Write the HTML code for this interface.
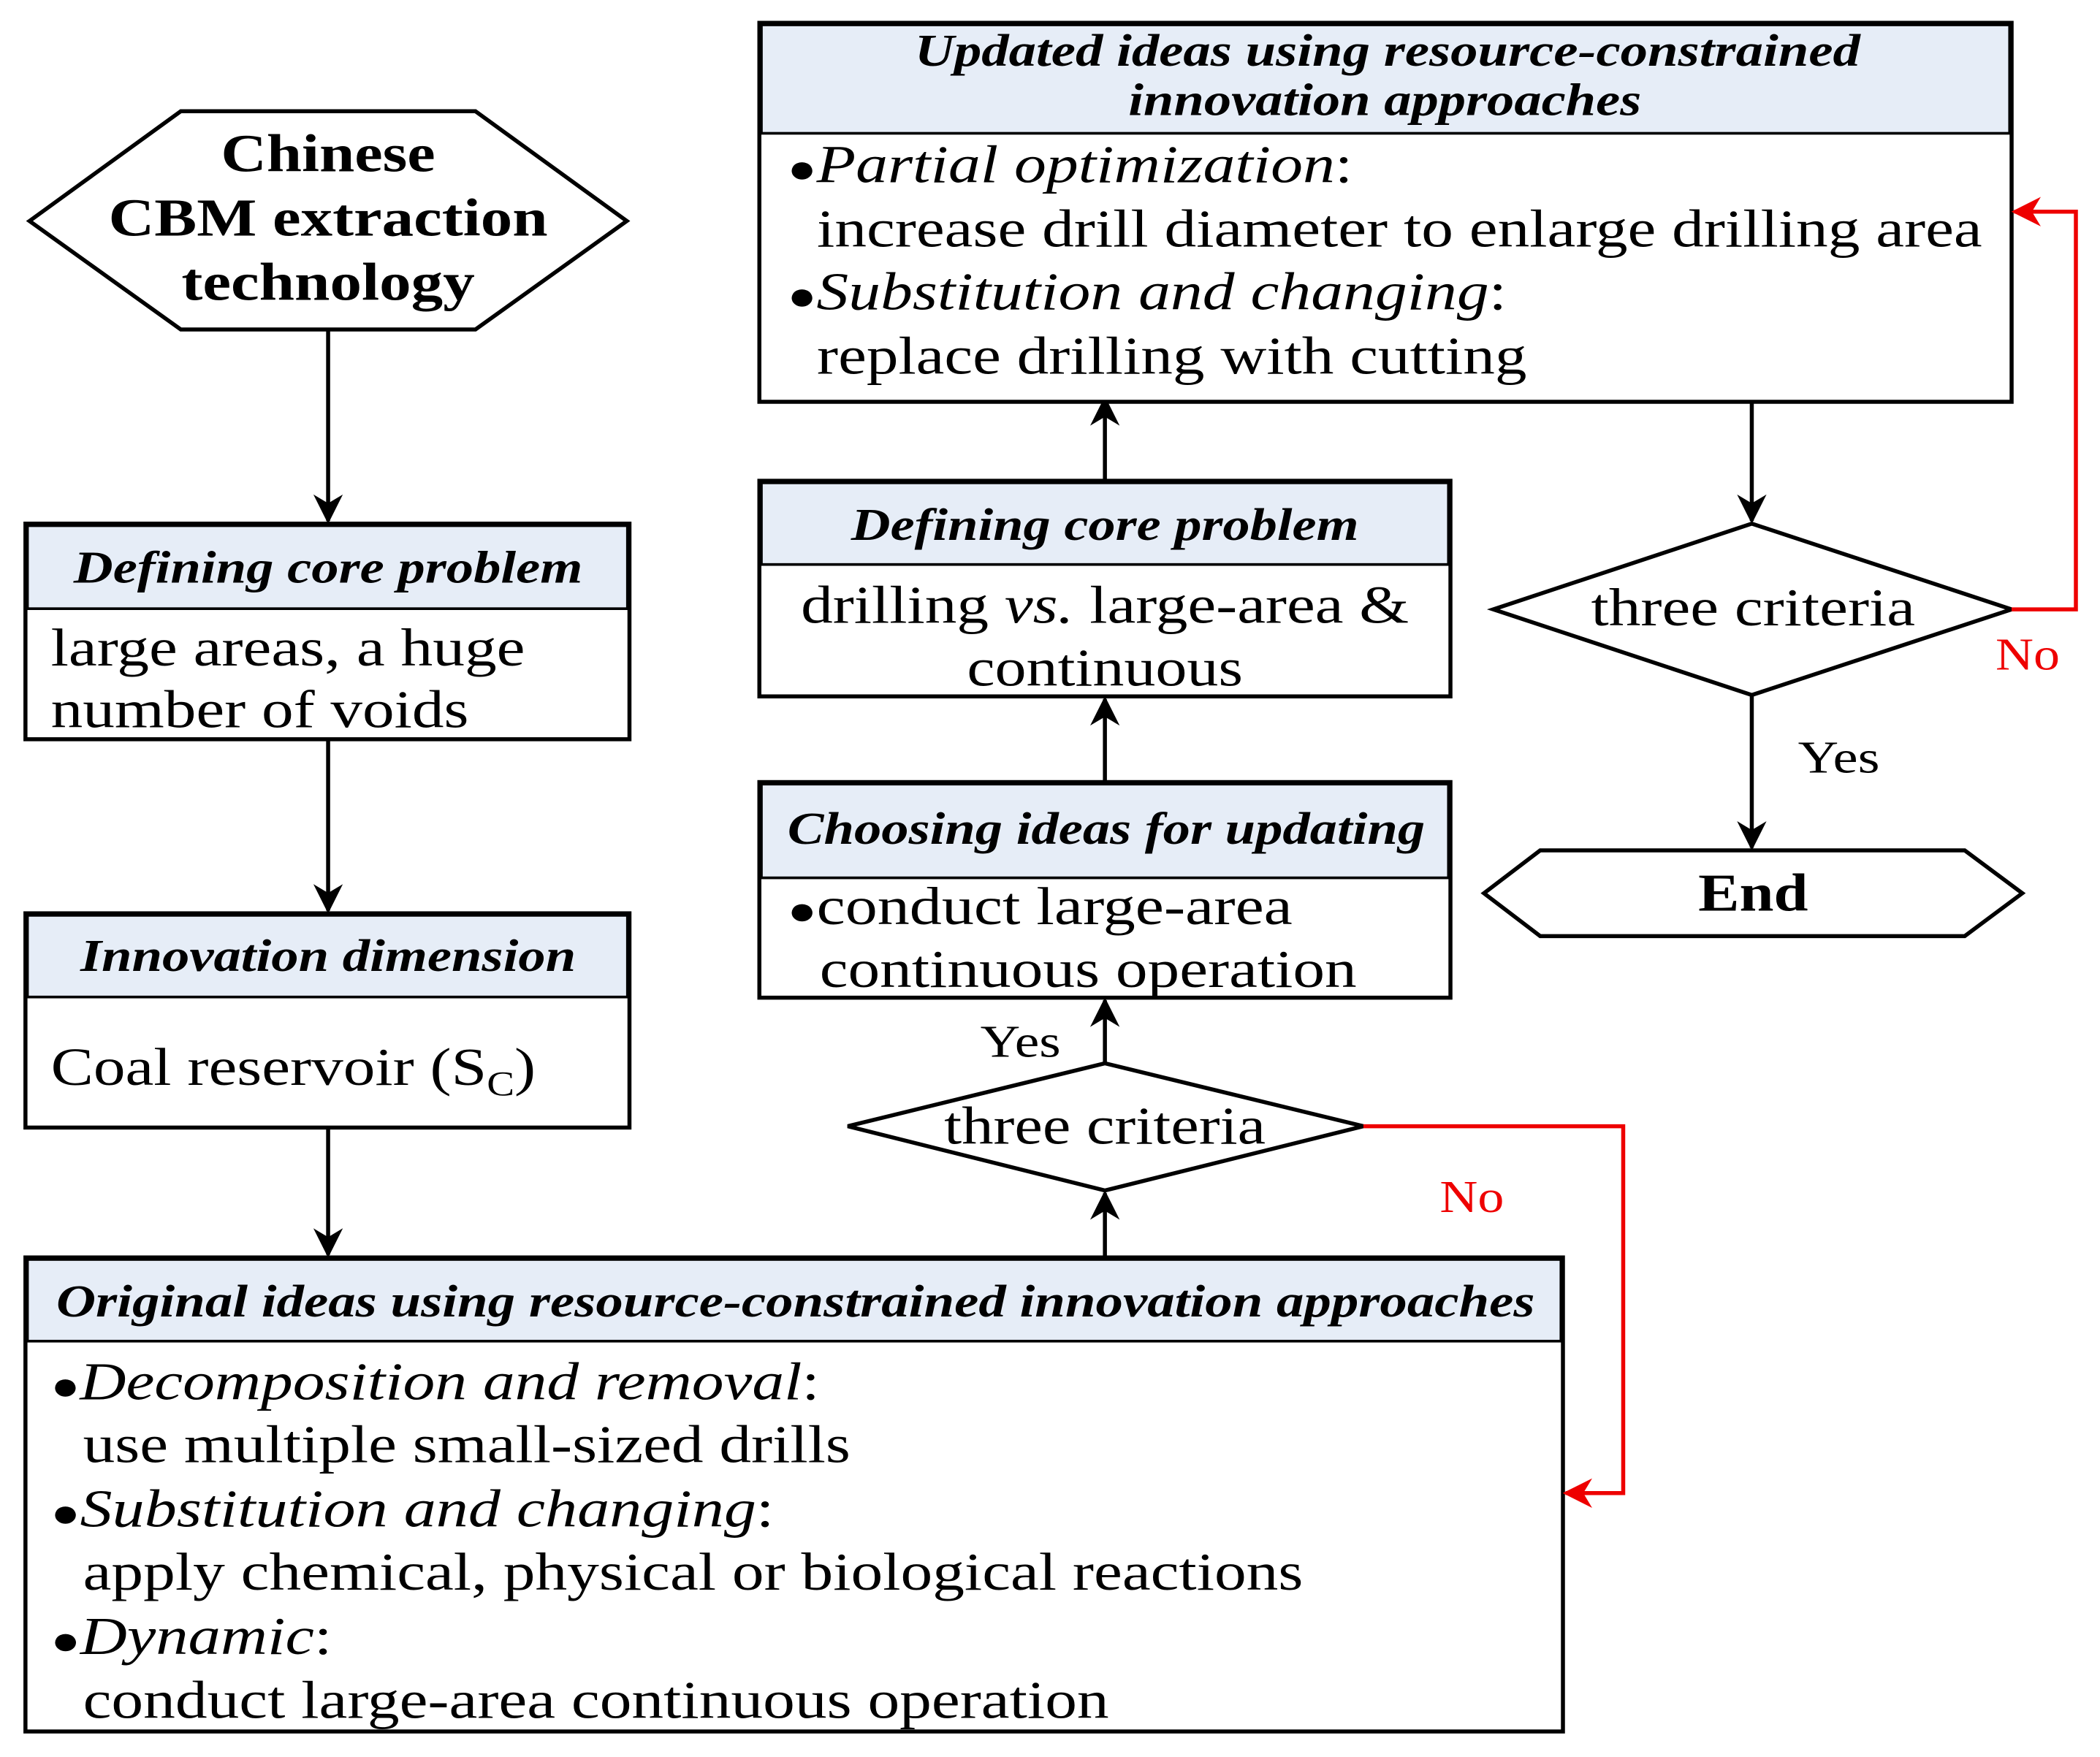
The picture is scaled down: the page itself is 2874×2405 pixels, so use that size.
<!DOCTYPE html>
<html><head><meta charset="utf-8"><style>html,body{margin:0;padding:0;background:#fff}svg{display:block}</style></head>
<body>
<svg width="2874" height="2405" viewBox="0 0 1568 1312" xmlns="http://www.w3.org/2000/svg" font-family="Liberation Serif, serif">
<defs>
<marker id="a" viewBox="0 0 10 10" refX="9" refY="5" markerWidth="24" markerHeight="22" markerUnits="userSpaceOnUse" orient="auto"><path d="M0,0 L10,5 L0,10 L3,5 z" fill="#000"/></marker>
<marker id="r" viewBox="0 0 10 10" refX="9" refY="5" markerWidth="24" markerHeight="22" markerUnits="userSpaceOnUse" orient="auto"><path d="M0,0 L10,5 L0,10 L3,5 z" fill="#e00"/></marker>
</defs>
<style>
.b{fill:#fff;stroke:#000;stroke-width:3}
.h{fill:#e6edf7;stroke:#000;stroke-width:2}
.t{font-size:40px}
.ht{font-size:34px;font-weight:bold;font-style:italic}
.ln{stroke:#000;stroke-width:3;fill:none}
.rl{stroke:#e00;stroke-width:3;fill:none}
.d{font-size:30px}
</style>
<polygon class="b" points="22,165 135,83 355,83 468,165 355,246 135,246"/>
<g font-size="40" font-weight="bold" text-anchor="middle" lengthAdjust="spacingAndGlyphs">
<text x="245" y="128" textLength="160" lengthAdjust="spacingAndGlyphs">Chinese</text>
<text x="245" y="176" textLength="328" lengthAdjust="spacingAndGlyphs">CBM extraction</text>
<text x="245" y="224" textLength="219" lengthAdjust="spacingAndGlyphs">technology</text></g>
<line class="ln" x1="245" y1="246" x2="245" y2="389" marker-end="url(#a)"/>
<rect class="b" x="19" y="391" width="451" height="161"/>
<rect class="h" x="20.5" y="392.5" width="448" height="62"/>
<text class="ht" x="245" y="435" text-anchor="middle" textLength="380" lengthAdjust="spacingAndGlyphs">Defining core problem</text>
<text class="t" x="38" y="497" textLength="354" lengthAdjust="spacingAndGlyphs">large areas, a huge</text>
<text class="t" x="38" y="543" textLength="312" lengthAdjust="spacingAndGlyphs">number of voids</text>
<line class="ln" x1="245" y1="552" x2="245" y2="680" marker-end="url(#a)"/>
<rect class="b" x="19" y="682" width="451" height="160"/>
<rect class="h" x="20.5" y="683.5" width="448" height="61"/>
<text class="ht" x="245" y="725" text-anchor="middle" textLength="370" lengthAdjust="spacingAndGlyphs">Innovation dimension</text>
<text class="t" x="38" y="810" textLength="362" lengthAdjust="spacingAndGlyphs">Coal reservoir (S<tspan font-size="26" dy="8">C</tspan><tspan dy="-8">)</tspan></text>
<line class="ln" x1="245" y1="842" x2="245" y2="937" marker-end="url(#a)"/>
<rect class="b" x="19" y="939" width="1148" height="354"/>
<rect class="h" x="20.5" y="940.5" width="1145" height="61"/>
<text class="ht" x="594" y="983" text-anchor="middle" textLength="1104" lengthAdjust="spacingAndGlyphs">Original ideas using resource-constrained innovation approaches</text>
<g class="t">
<text x="38" y="1045" textLength="574" lengthAdjust="spacingAndGlyphs"><tspan class="d">●</tspan><tspan font-style="italic">Decomposition and removal</tspan>:</text>
<text x="62" y="1092" textLength="573" lengthAdjust="spacingAndGlyphs">use multiple small-sized drills</text>
<text x="38" y="1140" textLength="540" lengthAdjust="spacingAndGlyphs"><tspan class="d">●</tspan><tspan font-style="italic">Substitution and changing</tspan>:</text>
<text x="62" y="1187" textLength="911" lengthAdjust="spacingAndGlyphs">apply chemical, physical or biological reactions</text>
<text x="38" y="1235" textLength="210" lengthAdjust="spacingAndGlyphs"><tspan class="d">●</tspan><tspan font-style="italic">Dynamic</tspan>:</text>
<text x="62" y="1283" textLength="766" lengthAdjust="spacingAndGlyphs">conduct large-area continuous operation</text>
</g>
<line class="ln" x1="825" y1="939" x2="825" y2="891" marker-end="url(#a)"/>
<polygon class="b" points="633,841 825,794 1018,841 825,889"/>
<text class="t" x="825" y="854" text-anchor="middle" textLength="240" lengthAdjust="spacingAndGlyphs">three criteria</text>
<polyline class="rl" points="1018,841 1212,841 1212,1115 1169,1115" marker-end="url(#r)"/>
<text x="1099" y="905" font-size="34" fill="#e00" text-anchor="middle" textLength="48" lengthAdjust="spacingAndGlyphs">No</text>
<text x="762" y="789" font-size="34" text-anchor="middle" textLength="60" lengthAdjust="spacingAndGlyphs">Yes</text>
<line class="ln" x1="825" y1="794" x2="825" y2="747" marker-end="url(#a)"/>
<rect class="b" x="567" y="584" width="516" height="161"/>
<rect class="h" x="568.5" y="585.5" width="513" height="70"/>
<text class="ht" x="826" y="630" text-anchor="middle" textLength="476" lengthAdjust="spacingAndGlyphs">Choosing ideas for updating</text>
<text class="t" x="588" y="690" textLength="377" lengthAdjust="spacingAndGlyphs"><tspan class="d">●</tspan>conduct large-area</text>
<text class="t" x="612" y="737" textLength="401" lengthAdjust="spacingAndGlyphs">continuous operation</text>
<line class="ln" x1="825" y1="584" x2="825" y2="522" marker-end="url(#a)"/>
<rect class="b" x="567" y="359" width="516" height="161"/>
<rect class="h" x="568.5" y="360.5" width="513" height="61"/>
<text class="ht" x="825" y="403" text-anchor="middle" textLength="379" lengthAdjust="spacingAndGlyphs">Defining core problem</text>
<text class="t" x="825" y="465" text-anchor="middle" textLength="454" lengthAdjust="spacingAndGlyphs">drilling <tspan font-style="italic">vs.</tspan> large-area &amp;</text>
<text class="t" x="825" y="512" text-anchor="middle" textLength="206" lengthAdjust="spacingAndGlyphs">continuous</text>
<line class="ln" x1="825" y1="359" x2="825" y2="298" marker-end="url(#a)"/>
<rect class="b" x="567" y="17" width="935" height="283"/>
<rect class="h" x="568.5" y="18.5" width="932" height="81"/>
<text class="ht" x="1036" y="49" text-anchor="middle" textLength="706" lengthAdjust="spacingAndGlyphs">Updated ideas using resource-constrained</text>
<text class="ht" x="1034" y="86" text-anchor="middle" textLength="383" lengthAdjust="spacingAndGlyphs">innovation approaches</text>
<g class="t">
<text x="588" y="136" textLength="422" lengthAdjust="spacingAndGlyphs"><tspan class="d">●</tspan><tspan font-style="italic">Partial optimization</tspan>:</text>
<text x="610" y="184" textLength="870" lengthAdjust="spacingAndGlyphs">increase drill diameter to enlarge drilling area</text>
<text x="588" y="231" textLength="537" lengthAdjust="spacingAndGlyphs"><tspan class="d">●</tspan><tspan font-style="italic">Substitution and changing</tspan>:</text>
<text x="610" y="279" textLength="530" lengthAdjust="spacingAndGlyphs">replace drilling with cutting</text>
</g>
<line class="ln" x1="1308" y1="300" x2="1308" y2="389" marker-end="url(#a)"/>
<polygon class="b" points="1115,455 1308,391 1502,455 1308,519"/>
<text class="t" x="1309" y="467" text-anchor="middle" textLength="242" lengthAdjust="spacingAndGlyphs">three criteria</text>
<polyline class="rl" points="1502,455 1550,455 1550,158 1504,158" marker-end="url(#r)"/>
<text x="1514" y="500" font-size="34" fill="#e00" text-anchor="middle" textLength="48" lengthAdjust="spacingAndGlyphs">No</text>
<line class="ln" x1="1308" y1="519" x2="1308" y2="633" marker-end="url(#a)"/>
<text x="1373" y="577" font-size="34" text-anchor="middle" textLength="61" lengthAdjust="spacingAndGlyphs">Yes</text>
<polygon class="b" points="1108,667 1150,635 1467,635 1510,667 1467,699 1150,699"/>
<text x="1309" y="680" font-size="40" font-weight="bold" text-anchor="middle" textLength="82" lengthAdjust="spacingAndGlyphs">End</text>
</svg>
</body></html>
